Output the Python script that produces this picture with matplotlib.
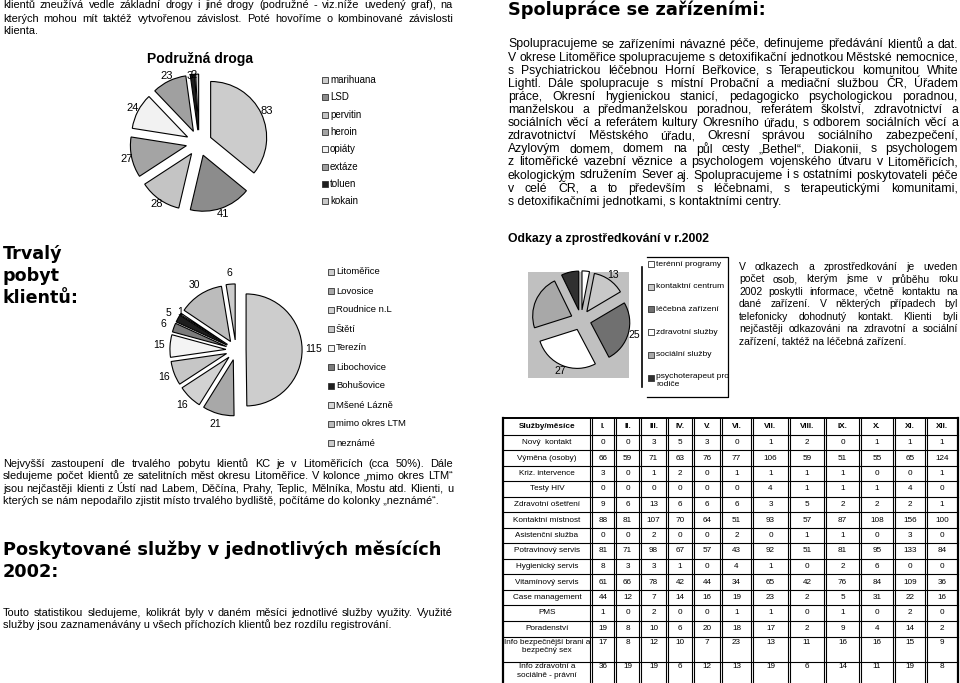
import matplotlib
matplotlib.use("Agg")
import matplotlib.pyplot as plt
from matplotlib.patches import Rectangle

plt.rcParams["font.family"] = ["Liberation Sans", "DejaVu Sans"]

W, H = 960, 683

# --- data -------------------------------------------------------------
drug_labels = ["marihuana", "LSD", "pervitin", "heroin", "opiáty", "extáze", "toluen", "kokain"]
drug_values = [83, 41, 28, 27, 24, 23, 3, 2]
drug_colors = ["#cccccc", "#8c8c8c", "#c4c4c4", "#a4a4a4", "#f2f2f2", "#a0a0a0", "#1e1e1e", "#c8c8c8"]

town_labels = ["Litoměřice", "Lovosice", "Roudnice n.L", "Štětí", "Terezín", "Libochovice",
               "Bohušovice", "Mšené Lázně", "mimo okres LTM", "neznámé"]
town_values = [115, 21, 16, 16, 15, 6, 5, 1, 30, 6]
town_colors = ["#cdcdcd", "#a8a8a8", "#d2d2d2", "#c6c6c6", "#f4f4f4", "#7c7c7c",
               "#1e1e1e", "#d8d8d8", "#bcbcbc", "#cccccc"]

ref_labels = ["terénní programy", "kontaktní centrum", "léčebná zařízení", "zdravotní služby",
              "sociální služby", "psychoterapeut pro\nrodiče"]
ref_values = [3, 13, 25, 27, 22, 7]
ref_value_shown = [False, True, True, True, False, False]
ref_colors = ["#ffffff", "#c8c8c8", "#707070", "#ffffff", "#a8a8a8", "#303030"]

months = ["I.", "II.", "III.", "IV.", "V.", "VI.", "VII.", "VIII.", "IX.", "X.", "XI.", "XII."]
services = ["Nový  kontakt", "Výměna (osoby)", "Kriz. intervence", "Testy HIV", "Zdravotní ošetření",
            "Kontaktní místnost", "Asistenční služba", "Potravinový servis", "Hygienický servis",
            "Vitamínový servis", "Case management", "PMS", "Poradenství",
            "Info bezpečnější brani a\nbezpečný sex", "Info zdravotní a\nsociálně - právní"]
novy_kontakt = [0, 0, 3, 5, 3, 0, 1, 2, 0, 1, 1, 1]
vymena = [66, 59, 71, 63, 76, 77, 106, 59, 51, 55, 65, 124]
kriz_intervence = [3, 0, 1, 2, 0, 1, 1, 1, 1, 0, 0, 1]
testy_hiv = [0, 0, 0, 0, 0, 0, 4, 1, 1, 1, 4, 0]
zdrav_osetreni = [9, 6, 13, 6, 6, 6, 3, 5, 2, 2, 2, 1]
kontaktni_mistnost = [88, 81, 107, 70, 64, 51, 93, 57, 87, 108, 156, 100]
asistencni = [0, 0, 2, 0, 0, 2, 0, 1, 1, 0, 3, 0]
potravinovy = [81, 71, 98, 67, 57, 43, 92, 51, 81, 95, 133, 84]
hygienicky = [8, 3, 3, 1, 0, 4, 1, 0, 2, 6, 0, 0]
vitaminovy = [61, 66, 78, 42, 44, 34, 65, 42, 76, 84, 109, 36]
case_mgmt = [44, 12, 7, 14, 16, 19, 23, 2, 5, 31, 22, 16]
pms = [1, 0, 2, 0, 0, 1, 1, 0, 1, 0, 2, 0]
poradenstvi = [19, 8, 10, 6, 20, 18, 17, 2, 9, 4, 14, 2]
info_sex = [17, 8, 12, 10, 7, 23, 13, 11, 16, 16, 15, 9]
info_pravni = [36, 19, 19, 6, 12, 13, 19, 6, 14, 11, 19, 8]
table_rows = [novy_kontakt, vymena, kriz_intervence, testy_hiv, zdrav_osetreni, kontaktni_mistnost,
              asistencni, potravinovy, hygienicky, vitaminovy, case_mgmt, pms, poradenstvi,
              info_sex, info_pravni]

# --- texts ------------------------------------------------------------
intro_lines = [
    "klientů zneužívá vedle základní drogy i jiné drogy (podružné - viz.níže uvedený graf), na",
    "kterých mohou mít taktéž vytvořenou závislost. Poté hovoříme o kombinované závislosti",
    "klienta.",
]
pobyt_lines = [
    "Nejvyšší zastoupení dle trvalého pobytu klientů KC je v Litoměřicích (cca 50%). Dále",
    "sledujeme počet klientů ze satelitních měst okresu Litoměřice. V kolonce „mimo okres LTM“",
    "jsou nejčastěji klienti z Ústí nad Labem, Děčína, Prahy, Teplic, Mělníka, Mostu atd. Klienti, u",
    "kterých se nám nepodařilo zjistit místo trvalého bydliště, počítáme do kolonky „neznámé“.",
]
sluzby_lines = [
    "Touto statistikou sledujeme, kolikrát byly v daném měsíci jednotlivé služby využity. Využité",
    "služby jsou zaznamenávány u všech příchozích klientů bez rozdílu registrování.",
]
spoluprace_lines = [
    "Spolupracujeme se zařízeními návazné péče, definujeme předávání klientů a dat.",
    "V okrese Litoměřice spolupracujeme s detoxifikační jednotkou Městské nemocnice,",
    "s Psychiatrickou léčebnou Horní Beřkovice, s Terapeutickou komunitou White",
    "Lightl. Dále spolupracuje s místní  Probační a mediační službou ČR, Úřadem",
    "práce, Okresní hygienickou stanicí, pedagogicko psychologickou poradnou,",
    "manželskou a předmanželskou poradnou, referátem školství, zdravotnictví a",
    "sociálních věcí a referátem kultury Okresního úřadu, s odborem sociálních věcí a",
    "zdravotnictví  Městského úřadu,  Okresní správou sociálního zabezpečení,",
    "Azylovým domem, domem na půl cesty „Bethel“, Diakonii, s psychologem",
    "z litoměřické vazební věznice a psychologem vojenského útvaru v Litoměřicích,",
    "ekologickým sdružením Sever aj.  Spolupracujeme i s ostatními poskytovateli péče",
    "v celé ČR, a to především s léčebnami, s terapeutickými komunitami,",
    "s detoxifikačními jednotkami, s kontaktními centry.",
]
odkazy_lines = [
    "V odkazech a zprostředkování je uveden",
    "počet osob, kterým jsme v průběhu roku",
    "2002 poskytli informace, včetně kontaktu na",
    "dané zařízení. V některých případech byl",
    "telefonicky dohodnutý kontakt. Klienti byli",
    "nejčastěji odkazováni na zdravotní a sociální",
    "zařízení, taktéž na léčebná zařízení.",
]

fig = plt.figure(figsize=(9.6, 6.83), dpi=100)
ax0 = fig.add_axes([0, 0, 1, 1])
ax0.set_xlim(0, W)
ax0.set_ylim(H, 0)
ax0.axis("off")
renderer = fig.canvas.get_renderer()


def paragraph(lines, x0, x1, y0, dy, size):
    """Justified paragraph, last line left aligned."""
    for i, line in enumerate(lines):
        y = y0 + i * dy
        words = line.split()
        if i == len(lines) - 1 or len(words) < 2:
            ax0.text(x0, y, line, fontsize=size, va="center", ha="left")
            continue
        arts = [ax0.text(x0, y, w, fontsize=size, va="center", ha="left") for w in words]
        widths = [a.get_window_extent(renderer).width for a in arts]
        gap = (x1 - x0 - sum(widths)) / (len(words) - 1)
        x = x0
        for a, wd in zip(arts, widths):
            a.set_x(x)
            x += wd + gap


def heading(x, y, s, size=12.8):
    ax0.text(x, y, s, fontsize=size, fontweight="bold", family="DejaVu Sans",
             va="center", ha="left", linespacing=1.27)


def draw_pie(cx, cy, r, values, colors, labels, explode, ld, fsize, thin_ha=None, half=1.8):
    s = 2 * half * r
    ax = fig.add_axes([(cx - half * r) / W, (H - cy - half * r) / H, s / W, s / H])
    _, texts = ax.pie(values, colors=colors, startangle=90, counterclock=False,
                      explode=[explode] * len(values), labels=labels, labeldistance=ld,
                      wedgeprops=dict(edgecolor="black", linewidth=0.8),
                      textprops=dict(fontsize=fsize))
    total = float(sum(values))
    for t, v in zip(texts, values):
        if v / total < 0.015:
            # thin slices: label pulled in a little, side-aligned
            x, y = t.get_position()
            t.set_position((x * 0.91, y * 0.91))
            if thin_ha:
                t.set_ha(thin_ha)
        else:
            t.set_ha("center")
    ax.set_xlim(-half, half)
    ax.set_ylim(-half, half)
    ax.axis("off")
    return ax


def legend(x, y0, dy, labels, colors, size, box=6):
    for i, (lab, col) in enumerate(zip(labels, colors)):
        y = y0 + i * dy
        ax0.add_patch(Rectangle((x, y - box / 2), box, box, fc=col, ec="#333333", lw=0.6))
        if "\n" in lab:
            ax0.text(x + box + 2, y - 5, lab, fontsize=size, va="top", ha="left", linespacing=1.3)
        else:
            ax0.text(x + box + 2, y, lab, fontsize=size, va="center", ha="left")


# --- left column -------------------------------------------------------
paragraph(intro_lines, 3, 453, 5.5, 13.0, 7.9)

ax0.text(200, 59, "Podružná droga", fontsize=10, fontweight="bold", ha="center", va="center")
draw_pie(199, 143, 56, drug_values, drug_colors, [str(v) for v in drug_values], 0.23, 1.1, 8)
legend(322, 80, 17.3, drug_labels, drug_colors, 7)

heading(3, 276, "Trvalý\npobyt\nklientů:", 12.6)
draw_pie(236, 350, 56, town_values, town_colors, [str(v) for v in town_values], 0.18, 1.2, 7.5,
         thin_ha="left")
legend(328, 272, 19.0, town_labels, town_colors, 6.8)

paragraph(pobyt_lines, 3, 453, 464, 12.4, 7.9)
heading(3, 560.5, "Poskytované služby v jednotlivých měsících\n2002:")
paragraph(sluzby_lines, 3, 453, 613, 12.0, 7.9)

# --- right column ------------------------------------------------------
heading(508, 10, "Spolupráce se zařízeními:")
paragraph(spoluprace_lines, 508, 958, 44.5, 13.1, 8.8)
ax0.text(508, 239, "Odkazy a zprostředkování v r.2002", fontsize=8.8, fontweight="bold",
         va="center", ha="left")

ax0.add_patch(Rectangle((528, 272), 101, 106, fc="#c0c0c0", ec="none"))
draw_pie(581, 320, 39, ref_values, ref_colors,
         [str(v) if s else "" for v, s in zip(ref_values, ref_value_shown)], 0.26, 1.15, 7.5)
ax0.plot([647, 728, 728, 647], [257, 257, 397, 397], color="black", lw=0.9)
ax0.plot([642, 642], [267, 387], color="black", lw=1.2)
legend(648, 264, 22.7, ref_labels, ref_colors, 6.1)

paragraph(odkazy_lines, 739, 958, 267, 12.4, 7.5)

# --- table -------------------------------------------------------------
col_edges = [503, 591, 615, 640, 667, 693, 721, 752, 789, 825, 860, 894, 926, 958]
row_edges = [418, 435, 450, 466, 481, 497, 512, 528, 543, 559, 574, 590, 605, 621, 637, 662, 687]
tsize = 5.9

for yy in row_edges:
    ax0.plot([col_edges[0], col_edges[-1]], [yy, yy], color="black",
             lw=1.4 if yy == row_edges[0] else 0.8)
for j, xx in enumerate(col_edges):
    if j in (0, len(col_edges) - 1):
        ax0.plot([xx, xx], [row_edges[0], row_edges[-1]], color="black", lw=1.6)
    else:
        for off in (-1.2, 1.2):
            ax0.plot([xx + off, xx + off], [row_edges[0], row_edges[-1]], color="black", lw=0.8)

hy = (row_edges[0] + row_edges[1]) / 2
ax0.text((col_edges[0] + col_edges[1]) / 2, hy, "Služby/měsíce", fontsize=tsize,
         fontweight="bold", ha="center", va="center")
for j, m in enumerate(months):
    ax0.text((col_edges[j + 1] + col_edges[j + 2]) / 2, hy, m, fontsize=tsize,
             fontweight="bold", ha="center", va="center")

for i, (name, vals) in enumerate(zip(services, table_rows)):
    top, bot = row_edges[i + 1], row_edges[i + 2]
    if "\n" in name:
        ty, va = top + 1.5, "top"
    else:
        ty, va = (top + bot) / 2, "center"
    ax0.text((col_edges[0] + col_edges[1]) / 2, ty, name, fontsize=tsize, ha="center",
             va=va, linespacing=1.25)
    for j, v in enumerate(vals):
        ax0.text((col_edges[j + 1] + col_edges[j + 2]) / 2, ty, str(v), fontsize=tsize,
                 ha="center", va=va)

fig.savefig("out.png", dpi=100)
